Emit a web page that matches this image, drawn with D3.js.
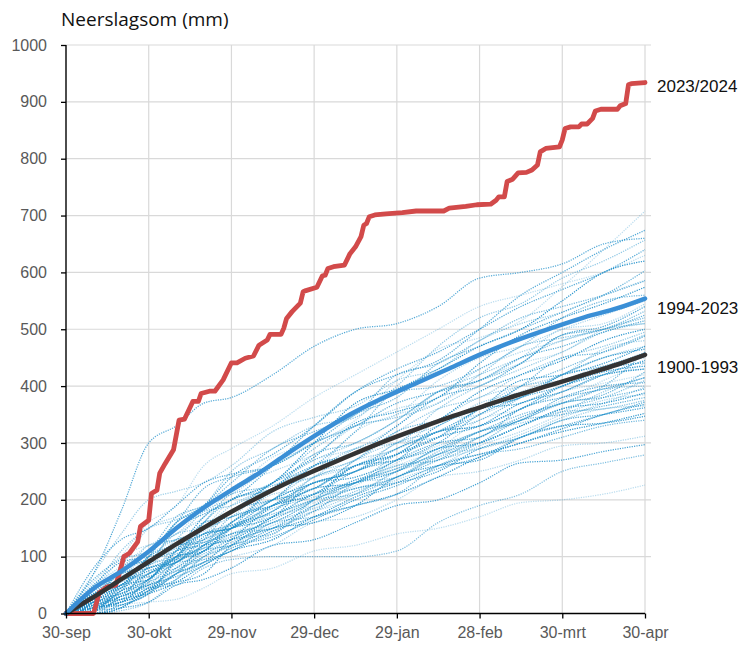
<!DOCTYPE html>
<html>
<head>
<meta charset="utf-8">
<script src="https://cdn.jsdelivr.net/npm/d3@7"></script>
<style>
  body { margin: 0; background: #fff; }
  svg { display: block; }
</style>
</head>
<body>
<svg id="chart" width="739" height="646"></svg>
<script>
// x axis: season days counted from 30 September
const tickDays = [0, 30, 60, 90, 120, 150, 180, 210];
const tickLabels = ["30-sep", "30-okt", "29-nov", "29-dec", "29-jan", "28-feb", "30-mrt", "30-apr"];
const yTicks = [0, 100, 200, 300, 400, 500, 600, 700, 800, 900, 1000];

// individual seasons: cumulative precipitation (mm) sampled on these days
const yearDays = [0, 10, 20, 30, 40, 50, 60, 75, 90, 105, 120, 135, 150, 165, 180, 195, 210];
const yearSums = [
  [0, 30, 80, 120, 140, 185, 215, 275, 300, 340, 410, 465, 485, 515, 575, 640, 708],
  [0, 15, 30, 85, 150, 175, 200, 260, 330, 390, 420, 445, 500, 560, 600, 640, 674],
  [0, 45, 110, 150, 165, 190, 250, 290, 330, 345, 400, 470, 520, 545, 590, 620, 657],
  [0, 5, 40, 60, 110, 170, 200, 230, 300, 370, 395, 430, 470, 500, 550, 600, 620],
  [0, 60, 95, 110, 160, 220, 240, 260, 300, 350, 380, 440, 470, 500, 530, 560, 603],
  [0, 70, 140, 200, 215, 230, 260, 320, 345, 365, 410, 430, 480, 510, 530, 560, 586],
  [0, 10, 20, 40, 95, 150, 180, 230, 275, 335, 355, 380, 440, 490, 520, 545, 574],
  [0, 20, 75, 95, 110, 160, 210, 225, 260, 320, 390, 400, 430, 470, 520, 550, 560],
  [0, 50, 85, 150, 170, 190, 210, 260, 300, 330, 350, 410, 450, 470, 500, 525, 550],
  [0, 0, 15, 35, 90, 110, 150, 220, 260, 280, 330, 380, 400, 440, 490, 505, 540],
  [0, 35, 60, 100, 160, 180, 190, 230, 290, 330, 345, 370, 420, 470, 485, 500, 532],
  [0, 25, 45, 110, 130, 150, 200, 220, 250, 320, 350, 370, 410, 440, 460, 500, 520],
  [0, 80, 130, 150, 190, 230, 245, 260, 300, 330, 370, 390, 410, 450, 470, 495, 515],
  [0, 10, 30, 55, 120, 130, 160, 200, 250, 290, 300, 360, 400, 430, 460, 495, 510],
  [0, 30, 45, 70, 100, 160, 170, 200, 260, 280, 310, 340, 390, 420, 445, 480, 500],
  [0, 20, 60, 65, 90, 130, 180, 200, 220, 270, 320, 340, 360, 400, 450, 460, 488],
  [0, 45, 60, 120, 130, 150, 190, 220, 240, 270, 290, 340, 380, 400, 420, 465, 480],
  [0, 0, 10, 40, 70, 90, 130, 190, 230, 250, 290, 320, 360, 410, 420, 440, 470],
  [0, 25, 65, 80, 95, 140, 155, 180, 240, 260, 290, 320, 340, 380, 420, 435, 459],
  [0, 55, 100, 120, 130, 145, 180, 220, 240, 260, 300, 340, 350, 380, 410, 435, 450],
  [0, 10, 20, 40, 70, 120, 140, 160, 200, 260, 270, 300, 350, 380, 400, 430, 441],
  [0, 30, 70, 80, 100, 115, 160, 200, 210, 230, 280, 320, 330, 360, 390, 420, 430],
  [0, 15, 25, 70, 85, 110, 130, 180, 220, 230, 260, 290, 340, 360, 390, 405, 420],
  [0, 35, 50, 100, 120, 125, 150, 190, 210, 250, 270, 290, 320, 340, 380, 400, 406],
  [0, 0, 5, 20, 60, 100, 120, 140, 190, 230, 240, 280, 320, 340, 370, 395, 400],
  [0, 20, 50, 60, 110, 120, 130, 170, 210, 230, 250, 290, 300, 330, 360, 370, 388],
  [0, 5, 40, 50, 70, 110, 140, 150, 180, 230, 260, 270, 300, 340, 350, 365, 380],
  [0, 30, 45, 90, 95, 110, 150, 170, 190, 210, 250, 280, 290, 310, 340, 360, 365],
  [0, 0, 10, 45, 55, 70, 120, 150, 160, 190, 240, 260, 270, 310, 330, 335, 347],
  [0, 20, 30, 50, 90, 95, 110, 160, 170, 190, 210, 260, 280, 290, 310, 330, 340],
  [0, 15, 20, 40, 60, 90, 100, 120, 160, 170, 200, 240, 250, 270, 295, 300, 312],
  [0, 5, 10, 20, 50, 60, 80, 120, 130, 160, 190, 200, 230, 265, 270, 285, 297],
  [0, 10, 30, 45, 50, 80, 95, 100, 100, 100, 110, 160, 190, 210, 250, 265, 279],
  [0, 0, 15, 20, 25, 45, 70, 80, 110, 120, 140, 150, 170, 195, 200, 210, 226],
  [0, 70, 180, 300, 330, 370, 380, 420, 470, 500, 510, 540, 590, 600, 615, 650, 660],
  [0, 40, 60, 90, 140, 150, 170, 230, 250, 270, 320, 360, 380, 420, 450, 470, 495],
  [0, 10, 20, 60, 100, 110, 160, 190, 210, 260, 280, 310, 360, 380, 420, 450, 465],
  [0, 25, 60, 70, 100, 160, 200, 220, 280, 300, 340, 390, 410, 440, 490, 500, 525],
  [0, 35, 50, 100, 130, 140, 160, 210, 220, 270, 300, 310, 360, 400, 410, 430, 455],
  [0, 5, 50, 80, 90, 135, 150, 170, 230, 240, 270, 320, 330, 360, 400, 425, 435],
  [0, 20, 80, 110, 170, 190, 230, 290, 320, 350, 420, 440, 480, 520, 540, 560, 585],
  [0, 15, 25, 60, 110, 130, 160, 220, 270, 290, 330, 390, 410, 450, 500, 510, 545],
  [0, 50, 90, 100, 115, 140, 150, 180, 220, 230, 270, 300, 310, 360, 380, 395, 415],
  [0, 0, 30, 40, 60, 100, 130, 140, 200, 220, 240, 280, 300, 330, 355, 360, 375],
  [0, 40, 100, 160, 190, 260, 290, 330, 380, 420, 460, 500, 540, 560, 580, 600, 630],
  [0, 20, 40, 100, 160, 190, 240, 280, 330, 390, 430, 460, 500, 540, 570, 600, 640],
  [0, 30, 55, 90, 130, 180, 200, 230, 270, 300, 340, 390, 420, 450, 480, 500, 510],
  [0, 15, 50, 75, 90, 120, 150, 200, 230, 250, 280, 310, 330, 370, 390, 420, 445],
  [0, 5, 20, 55, 75, 100, 120, 170, 200, 210, 240, 270, 310, 340, 370, 380, 395],
  [0, 45, 70, 85, 120, 140, 180, 200, 240, 290, 310, 330, 370, 390, 420, 450, 470],
  [0, 25, 35, 60, 100, 140, 150, 190, 220, 260, 280, 330, 360, 370, 400, 420, 430],
  [0, 10, 45, 80, 95, 120, 170, 190, 230, 250, 300, 320, 350, 400, 430, 460, 490],
  [0, 30, 60, 110, 140, 170, 220, 250, 280, 330, 360, 380, 430, 460, 480, 500, 520],
  [0, 20, 25, 45, 80, 110, 120, 150, 190, 220, 230, 250, 290, 310, 340, 350, 362],
  [0, 10, 35, 50, 75, 105, 125, 160, 185, 215, 240, 275, 300, 330, 360, 380, 410],
  [0, 25, 40, 65, 80, 110, 140, 170, 195, 225, 265, 295, 320, 345, 375, 410, 440],
  [0, 15, 30, 50, 65, 85, 115, 135, 165, 200, 225, 255, 275, 310, 330, 350, 372],
  [0, 40, 75, 95, 110, 130, 150, 185, 205, 235, 255, 290, 320, 335, 355, 390, 415],
  [0, 5, 25, 35, 55, 85, 110, 130, 170, 190, 210, 240, 275, 300, 320, 335, 352],
  [0, 20, 35, 70, 100, 115, 135, 165, 200, 230, 255, 280, 310, 345, 370, 385, 425],
  [0, 30, 50, 70, 90, 120, 130, 150, 180, 210, 250, 270, 290, 315, 345, 370, 398],
  [0, 10, 15, 35, 70, 90, 110, 145, 170, 205, 230, 260, 280, 300, 325, 350, 368],
  [0, 35, 70, 85, 105, 125, 155, 175, 200, 235, 250, 285, 320, 350, 370, 400, 460],
  [0, 15, 45, 60, 80, 95, 120, 155, 180, 200, 235, 260, 295, 320, 350, 375, 385]
];

// climatological means
const meanDays = [0, 10, 20, 30, 40, 50, 60, 70, 79, 91, 103, 115, 127, 139, 151, 163, 176, 188, 200, 210];
const mean1994 = [0, 44, 74, 109, 150, 186, 217, 247, 277, 315, 350, 379, 405, 431, 457, 480, 502, 521, 537, 554];
const mean1900 = [0, 29, 60, 91, 122, 151, 179, 205, 227, 253, 278, 302, 324, 345, 364, 383, 402, 420, 438, 455];

// season 2023/2024
const seasonDays = [0, 10, 12, 15, 18, 19, 21, 23, 26, 27, 30, 31, 33, 34, 36, 39, 41, 43, 46, 48, 49, 52, 54, 57, 60,
  62, 65, 68, 70, 73, 74, 78, 79, 80, 82, 85, 86, 87, 91, 93, 94, 95, 97, 101, 103, 105, 107, 108, 109, 110, 112,
  116, 122, 127, 137, 139, 145, 149, 154, 156, 157, 159, 160, 162, 164, 167, 169, 171, 172, 174, 179, 180, 181,
  183, 186, 187, 189, 191, 192, 194, 200, 201, 203, 204, 205, 210];
const seasonSums = [0, 0, 36, 47, 50, 65, 100, 106, 126, 153, 164, 211, 217, 247, 264, 288, 340, 342, 373, 373, 387,
  391, 391, 411, 441, 441, 449, 453, 472, 481, 491, 491, 502, 519, 531, 546, 566, 568, 574, 594, 595, 607, 610, 613,
  633, 645, 663, 683, 686, 698, 701, 703, 705, 708, 708, 713, 716, 719, 720, 727, 733, 733, 760, 764, 775, 776, 780,
  789, 812, 818, 821, 833, 853, 856, 856, 861, 861, 871, 884, 887, 887, 893, 897, 930, 932, 934];

const seriesLabels = ["2023/2024", "1994-2023", "1900-1993"];

const svg = d3.select("#chart");
const x = d3.scaleLinear().domain([0, 210]).range([66, 645]);
const y = d3.scaleLinear().domain([0, 1000]).range([613.5, 45]);

// grid
const grid = svg.append("g");
grid.selectAll("line.h").data(yTicks.slice(1)).join("line")
  .attr("x1", x(0)).attr("x2", x(210) + 6)
  .attr("y1", d => y(d)).attr("y2", d => y(d))
  .attr("stroke", "#d9d9d9").attr("stroke-width", 1.2);
grid.selectAll("line.v").data(tickDays.slice(1)).join("line")
  .attr("x1", d => x(d)).attr("x2", d => x(d))
  .attr("y1", y(1000)).attr("y2", y(0))
  .attr("stroke", "#d9d9d9").attr("stroke-width", 1.2);

// individual seasons
const yearLine = d3.line()
  .x((d, i) => x(yearDays[i]))
  .y(d => y(d))
  .curve(d3.curveMonotoneX);
const shade = i => 0.3 + 0.65 * ((i * 7) % 11) / 10;
svg.append("g").selectAll("path").data(yearSums).join("path")
  .attr("d", yearLine)
  .attr("fill", "none")
  .attr("stroke", "#1f8fca")
  .attr("stroke-width", 1.25)
  .attr("stroke-dasharray", "1.2,1.2")
  .attr("stroke-opacity", (d, i) => shade(i));

const lineOf = days => d3.line().x((d, i) => x(days[i])).y(d => y(d));

// 2023/2024
svg.append("path")
  .attr("d", lineOf(seasonDays)(seasonSums))
  .attr("fill", "none").attr("stroke", "#d24a4a").attr("stroke-width", 4.8)
  .attr("stroke-linejoin", "round").attr("stroke-linecap", "round");

// means
const meanLine = d3.line().x((d, i) => x(meanDays[i])).y(d => y(d)).curve(d3.curveMonotoneX);
svg.append("path").attr("d", meanLine(mean1900))
  .attr("fill", "none").attr("stroke", "#333333").attr("stroke-width", 4.5)
  .attr("stroke-linecap", "round");
svg.append("path").attr("d", meanLine(mean1994))
  .attr("fill", "none").attr("stroke", "#3a8fd6").attr("stroke-width", 4.5)
  .attr("stroke-linecap", "round");

// axes
const yAxis = svg.append("g").attr("transform", `translate(${x(0)},0)`)
  .call(d3.axisLeft(y).tickValues(yTicks).tickSize(5).tickPadding(14).tickFormat(d3.format("d")));
const xAxis = svg.append("g").attr("transform", `translate(0,${y(0)})`)
  .call(d3.axisBottom(x).tickValues(tickDays).tickSize(5).tickPadding(8)
    .tickFormat((d, i) => tickLabels[i]));
[yAxis, xAxis].forEach(a => {
  a.select(".domain").attr("stroke", "#000").attr("stroke-width", 1.4);
  a.selectAll(".tick line").attr("stroke", "#000").attr("stroke-width", 1.3);
  a.selectAll("text").attr("fill", "#595959")
    .style("font-family", "'Liberation Sans', Arial, sans-serif").style("font-size", "16px");
});
xAxis.select(".domain").attr("d", `M${x(0)},0H${x(210)}`);
yAxis.select(".domain").attr("d", `M0,${y(1000)}V${y(0)}`);

// title
svg.append("text").attr("x", 61).attr("y", 26)
  .style("font-family", "'Open Sans', sans-serif").style("font-size", "19px")
  .attr("fill", "#111").text("Neerslagsom (mm)");

// end labels
const ends = [
  [seriesLabels[0], seasonSums[seasonSums.length - 1], 4],
  [seriesLabels[1], mean1994[mean1994.length - 1], 9],
  [seriesLabels[2], mean1900[mean1900.length - 1], 12]
];
svg.append("g").selectAll("text").data(ends).join("text")
  .attr("x", 657).attr("y", d => y(d[1]) + d[2])
  .attr("dy", "0.35em")
  .style("font-family", "'Liberation Sans', Arial, sans-serif").style("font-size", "17px")
  .attr("fill", "#111").text(d => d[0]);
</script>
</body>
</html>
